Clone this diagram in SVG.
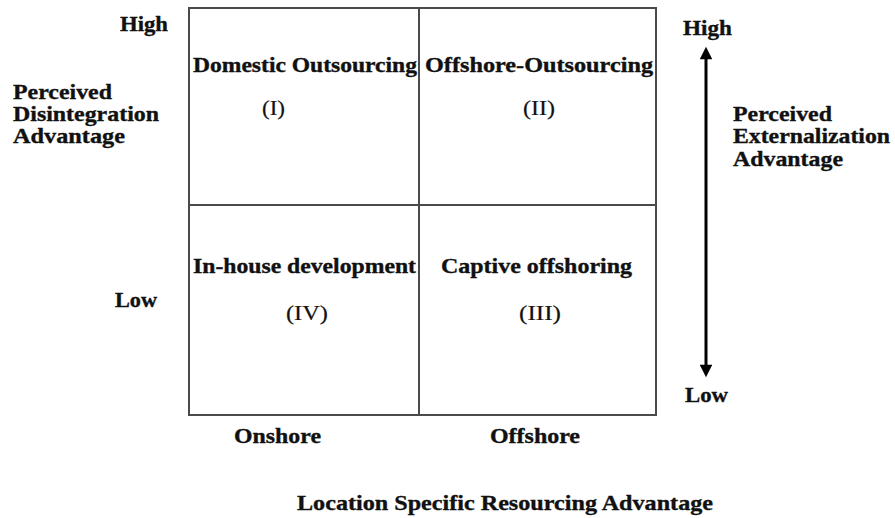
<svg xmlns="http://www.w3.org/2000/svg" width="895" height="518" viewBox="0 0 895 518">
<style>
text{font-family:"Liberation Serif","Times New Roman",Tinos,serif;font-size:21px;font-weight:bold;fill:#111;stroke:#111;stroke-width:0.35}
.num{font-weight:normal;stroke-width:0.2}
.grid{fill:none;stroke:#4a4a4a;stroke-width:2}
.arrow{stroke:#000;stroke-width:3;fill:none}
</style>
<defs>
<marker id="ah" viewBox="0 0 10 10" refX="1" refY="5" markerWidth="4.4" markerHeight="4.2" orient="auto-start-reverse" markerUnits="strokeWidth">
<path d="M0,0 L10,5 L0,10 z" fill="#000"/>
</marker>
</defs>
<rect x="0" y="0" width="895" height="518" fill="#fff"/>
<g id="grid">
<rect class="grid" x="189" y="8" width="467" height="407"/>
<line class="grid" x1="419" y1="8" x2="419" y2="415"/>
<line class="grid" x1="189" y1="205" x2="656" y2="205"/>
</g>
<g id="q1">
<text x="193" y="72" textLength="224" lengthAdjust="spacingAndGlyphs">Domestic Outsourcing</text>
<text class="num" x="262" y="115" textLength="23" lengthAdjust="spacingAndGlyphs">(I)</text>
</g>
<g id="q2">
<text x="425" y="72" textLength="228" lengthAdjust="spacingAndGlyphs">Offshore-Outsourcing</text>
<text class="num" x="523" y="115" textLength="32" lengthAdjust="spacingAndGlyphs">(II)</text>
</g>
<g id="q4">
<text x="193" y="273" textLength="223" lengthAdjust="spacingAndGlyphs">In-house development</text>
<text class="num" x="286" y="320" textLength="42" lengthAdjust="spacingAndGlyphs">(IV)</text>
</g>
<g id="q3">
<text x="441" y="273" textLength="191" lengthAdjust="spacingAndGlyphs">Captive offshoring</text>
<text class="num" x="519" y="320" textLength="42" lengthAdjust="spacingAndGlyphs">(III)</text>
</g>
<g id="left-axis">
<text x="120" y="31" textLength="48" lengthAdjust="spacingAndGlyphs">High</text>
<text x="13" y="99" textLength="99" lengthAdjust="spacingAndGlyphs">Perceived</text>
<text x="13" y="121" textLength="146" lengthAdjust="spacingAndGlyphs">Disintegration</text>
<text x="13" y="143" textLength="112" lengthAdjust="spacingAndGlyphs">Advantage</text>
<text x="115" y="307" textLength="42" lengthAdjust="spacingAndGlyphs">Low</text>
</g>
<g id="bottom-axis">
<text x="234" y="443" textLength="87" lengthAdjust="spacingAndGlyphs">Onshore</text>
<text x="490" y="443" textLength="90" lengthAdjust="spacingAndGlyphs">Offshore</text>
<text x="297" y="510" textLength="416" lengthAdjust="spacingAndGlyphs">Location Specific Resourcing Advantage</text>
</g>
<g id="right-axis">
<text x="683" y="35" textLength="49" lengthAdjust="spacingAndGlyphs">High</text>
<text x="733" y="121" textLength="99" lengthAdjust="spacingAndGlyphs">Perceived</text>
<text x="733" y="143" textLength="157" lengthAdjust="spacingAndGlyphs">Externalization</text>
<text x="733" y="166" textLength="110" lengthAdjust="spacingAndGlyphs">Advantage</text>
<text x="685" y="402" textLength="43" lengthAdjust="spacingAndGlyphs">Low</text>
</g>
<g id="connectors">
<line class="arrow" x1="706" y1="58" x2="706" y2="366" marker-start="url(#ah)" marker-end="url(#ah)"/>
</g>
</svg>
